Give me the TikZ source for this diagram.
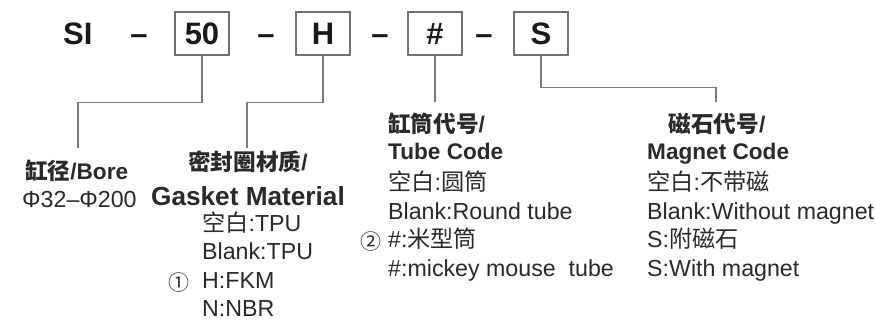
\documentclass[tikz,border=0pt]{standalone}
\usepackage{fontspec}
\setmainfont{Liberation Sans}
\newfontfamily\cjk{Noto Sans CJK SC}
\newcommand\cj[1]{{\cjk #1}}
\definecolor{boxgray}{HTML}{707070}
\definecolor{linegray}{HTML}{7A7A7A}
\definecolor{titlecol}{HTML}{1A1A1A}
\definecolor{txt}{HTML}{2A2A2A}
\tikzset{
  codebox/.style={draw=boxgray, line width=1.3pt, minimum width=54pt, minimum height=43pt,
    inner sep=0pt, text height=22pt, text depth=0pt,
    font=\bfseries\fontsize{31}{31}\selectfont, text=titlecol},
  titletxt/.style={font=\bfseries\fontsize{31}{31}\selectfont, inner sep=0pt, text=titlecol},
  conn/.style={draw=linegray, line width=1.3pt},
  head/.style={font=\bfseries\fontsize{22.6}{22.6}\selectfont, inner sep=0pt, anchor=base west, text=txt},
  bighead/.style={font=\bfseries\fontsize{26.2}{26.2}\selectfont, inner sep=0pt, anchor=base, text=txt},
  item/.style={font=\fontsize{23.2}{23.2}\selectfont, inner sep=0pt, anchor=base west, text=txt},
  circnum/.style={font=\cjk\fontsize{21}{21}\selectfont, inner sep=0pt, anchor=center, text=txt},
}
\begin{document}
\begin{tikzpicture}[x=1pt,y=-1pt]
\useasboundingbox (0,0) rectangle (876,320);
% title row
\node[titletxt, anchor=base west] (si) at (63,45) {SI};
\node[titletxt, anchor=base] (d1) at (139,45) {–};
\node[codebox] (b50) at (202,33.5) {50};
\node[titletxt, anchor=base] (d2) at (266,45) {–};
\node[codebox] (bH) at (323,33.5) {H};
\node[titletxt, anchor=base] (d3) at (380,45) {–};
\node[codebox] (bHash) at (435,33.5) {\#};
\node[titletxt, anchor=base] (d4) at (484,45) {–};
\node[codebox] (bS) at (541,33.5) {S};
% connector ends
\coordinate (e50) at (78,148);
\coordinate (eH) at (247,148);
\coordinate (eHash) at (435,102);
\coordinate (eS) at (716,102);
\draw[conn] (b50.south) -- ++(0,47) -| (e50);
\draw[conn] (bH.south) -- ++(0,47) -| (eH);
\draw[conn] (bHash.south) -- (eHash);
\draw[conn] (bS.south) -- ++(0,32) -| (eS);
% column 1
\node[head] (c1h) at (25,180) {\cj{缸径}/Bore};
\node[item] (c1a) at (22,208) {Φ32–Φ200};
% column 2
\node[head, anchor=base] (c2h) at (248,171) {\cj{密封圈材质}/};
\node[bighead] (c2e) at (248,206) {Gasket Material};
\node[item] (c2a) at (202,232) {\cj{空白}:TPU};
\node[item] (c2b) at (202,260) {Blank:TPU};
\node[item] (c2c) at (202,289) {H:FKM};
\node[item] (c2d) at (202,316.5) {N:NBR};
\node[circnum] (n1) at (179,283) {①};
% column 3
\node[head] (c3h) at (388,133) {\cj{缸筒代号}/};
\node[head] (c3e) at (388,160) {Tube Code};
\node[item] (c3a) at (388,191) {\cj{空白}:\cj{圆筒}};
\node[item] (c3b) at (388,220) {Blank:Round tube};
\node[item] (c3c) at (388,248) {\#:\cj{米型筒}};
\node[item] (c3d) at (388,277) {\#:mickey mouse\ \ tube};
\node[circnum] (n2) at (371,242) {②};
% column 4
\node[head, anchor=base] (c4h) at (717,133) {\cj{磁石代号}/};
\node[head] (c4e) at (647,160) {Magnet Code};
\node[item] (c4a) at (647,191) {\cj{空白}:\cj{不带磁}};
\node[item] (c4b) at (647,220) {Blank:Without magnet};
\node[item] (c4c) at (647,248) {S:\cj{附磁石}};
\node[item] (c4d) at (647,277) {S:With magnet};
\end{tikzpicture}
\end{document}
